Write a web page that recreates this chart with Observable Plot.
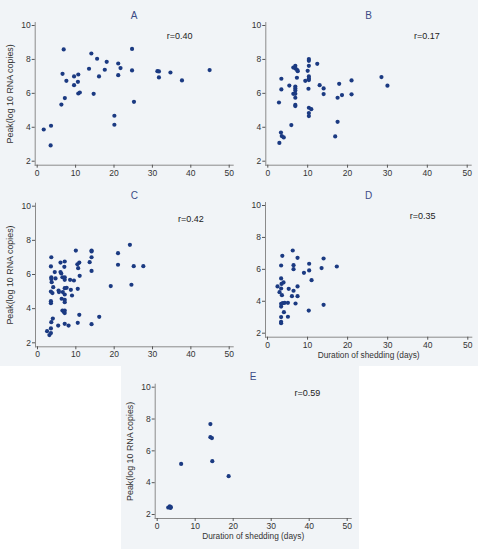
<!DOCTYPE html>
<html>
<head>
<meta charset="utf-8">
<script src="https://cdn.jsdelivr.net/npm/d3@7"></script>
<script src="https://cdn.jsdelivr.net/npm/@observablehq/plot@0.6"></script>
<style>
  html, body { margin: 0; padding: 0; background: #ffffff; }
  #chart { position: relative; width: 481px; height: 549px; font-family: "Liberation Sans", Arial, sans-serif; }
  #chart svg { position: absolute; }
</style>
</head>
<body>
<div id="chart"></div>
<script>
// ---- data ----
const xTicks = [0, 10, 20, 30, 40, 50];
const yTicks = [2, 4, 6, 8, 10];
const panelTitles = ["A", "B", "C", "D", "E"];
const rLabels = ["r=0.40", "r=0.17", "r=0.42", "r=0.35", "r=0.59"];
const rPositions = [[37.1, 9.37], [39.9, 9.37], [40.0, 9.22], [38.7, 9.33], [39.5, 9.65]];
const yLabel = "Peak(log 10 RNA copies)";
const xLabel = "Duration of shedding (days)";

// [duration of shedding (days), peak log10 RNA copies]
const panelA = [
  [1.7, 3.87], [3.6, 4.09], [3.5, 2.93], [6.9, 8.59], [6.6, 7.15], [7.6, 6.74], [7.2, 5.72], [6.3, 5.34],
  [9.6, 7.0], [9.6, 6.48], [10.7, 7.11], [10.6, 6.68], [10.7, 5.99], [11.1, 6.05], [13.5, 7.45], [14.1, 8.35],
  [14.7, 5.97], [15.6, 8.04], [16.1, 7.0], [17.6, 7.39], [18.1, 7.86], [20.1, 4.68], [20.1, 4.15], [21.1, 7.76],
  [21.1, 7.07], [21.7, 7.49], [24.7, 8.62], [24.7, 7.35], [25.2, 5.5], [31.3, 7.31], [31.7, 7.29], [31.7, 6.94],
  [34.7, 7.23], [37.7, 6.76], [44.9, 7.37]
];
const panelB = [
  [2.9, 3.08], [2.8, 5.46], [3.3, 3.69], [3.5, 3.48], [4.0, 3.40], [3.4, 6.86], [3.4, 6.23], [5.4, 6.46],
  [5.9, 4.13], [6.4, 7.52], [6.9, 7.62], [7.0, 7.45], [7.4, 7.37], [7.5, 7.31], [7.3, 6.92], [6.4, 5.97],
  [6.9, 5.97], [6.9, 6.40], [6.9, 6.29], [6.9, 6.17], [6.9, 5.74], [6.9, 5.32], [6.9, 5.25], [9.4, 6.74],
  [10.0, 7.33], [10.3, 8.02], [10.3, 7.92], [10.3, 7.62], [10.3, 7.0], [10.3, 6.88], [10.3, 6.78], [10.2, 6.27],
  [10.3, 5.15], [10.9, 5.07], [10.3, 4.84], [10.3, 4.66], [12.4, 7.74], [13.0, 6.48], [14.0, 6.29], [14.0, 5.96],
  [16.9, 3.46], [17.5, 4.32], [17.5, 5.74], [17.9, 6.56], [18.6, 5.9], [21.0, 6.76], [21.0, 5.94], [28.5, 6.96],
  [30.0, 6.45]
];
const panelC = [
  [2.5, 2.68], [3.1, 2.45], [3.5, 2.57], [3.5, 2.84], [3.6, 3.21], [4.0, 3.42], [3.6, 7.01], [3.5, 6.47],
  [3.6, 5.84], [3.6, 5.73], [3.7, 5.55], [4.1, 5.26], [3.5, 5.0], [3.9, 4.91], [3.5, 4.44], [3.5, 4.32],
  [4.7, 5.77], [4.5, 6.14], [5.4, 3.01], [5.5, 5.06], [5.6, 4.97], [6.0, 6.70], [6.0, 6.14], [6.2, 6.06],
  [6.5, 5.84], [6.3, 4.58], [6.6, 4.97], [6.5, 3.89], [6.9, 3.81], [7.1, 6.76], [7.0, 6.45], [7.1, 5.84],
  [7.1, 5.69], [7.1, 5.20], [7.1, 4.83], [7.1, 4.52], [7.1, 4.38], [7.1, 3.89], [7.1, 3.74], [7.1, 3.11],
  [7.6, 5.22], [8.1, 3.01], [8.5, 5.69], [8.7, 5.10], [9.0, 4.77], [9.5, 5.65], [10.0, 7.40], [10.4, 6.60],
  [10.6, 6.37], [10.9, 6.70], [10.5, 5.16], [11.0, 5.92], [10.5, 3.17], [10.9, 3.64], [13.6, 6.72], [14.1, 7.40],
  [14.1, 7.35], [14.1, 7.01], [14.1, 6.21], [14.1, 3.09], [16.1, 3.52], [19.1, 5.32], [21.0, 7.25], [21.0, 6.57],
  [24.1, 7.74], [24.5, 5.40], [25.1, 6.49], [27.6, 6.49]
];
const panelD = [
  [2.5, 4.93], [3.0, 4.57], [3.4, 5.43], [3.4, 6.24], [3.4, 4.80], [3.5, 5.09], [3.6, 4.38], [3.4, 3.84],
  [3.4, 3.67], [3.4, 3.01], [3.4, 2.71], [3.4, 2.63], [3.7, 6.85], [3.8, 3.88], [4.0, 5.18], [4.1, 3.32],
  [4.3, 3.90], [5.1, 3.90], [5.1, 3.03], [5.3, 4.78], [6.1, 4.32], [6.3, 7.18], [6.5, 6.26], [6.5, 6.01],
  [6.5, 4.66], [7.0, 3.86], [7.5, 6.72], [7.5, 4.93], [7.5, 4.32], [9.1, 5.78], [10.4, 6.35], [10.4, 5.93],
  [10.3, 3.42], [11.0, 5.32], [13.5, 6.08], [14.0, 6.68], [14.0, 3.78], [17.3, 6.18]
];
const panelE = [
  [2.9, 2.44], [3.3, 2.52], [3.6, 2.46], [3.5, 2.42], [6.3, 5.18], [14.0, 7.68], [14.0, 6.86], [14.4, 6.80],
  [14.5, 5.35], [18.8, 4.41]
];

// ---- layout / style ----
const panels = [panelA, panelB, panelC, panelD, panelE];
const layout = [
  {left: 0,   top: 0,   width: 238, mL: 34.7, mR: 5.3, mT: 22,   mB: 18.3, yLab: true,  xLab: false, yLabOff: 28.5},
  {left: 238, top: 0,   width: 240, mL: 27.3, mR: 7.3, mT: 22,   mB: 18.3, yLab: false, xLab: false},
  {left: 0,   top: 183, width: 238, mL: 35,   mR: 5.3, mT: 19.7, mB: 19.7, yLab: true,  xLab: false, yLabOff: 28.5},
  {left: 238, top: 183, width: 240, mL: 27,   mR: 6.7, mT: 19,   mB: 29.3, yLab: false, xLab: true,  xLabOff: 20.5},
  {left: 121, top: 366, width: 238, mL: 33.7, mR: 8.3, mT: 17.7, mB: 31,   yLab: true,  xLab: true,  yLabOff: 29, xLabOff: 20.5}
];
const bg = "#f1f4f7";
const dotColor = "#1b3a82";
const titleColor = "#3b4b86";
const textColor = "#333333";
const axisColor = "#8a8a8a";
const fontFamily = '"Liberation Sans", Arial, sans-serif';

const chart = document.getElementById("chart");

panels.forEach((data, i) => {
  const L = layout[i];
  const marks = [
    Plot.frame({anchor: "left", stroke: axisColor}),
    Plot.frame({anchor: "bottom", stroke: axisColor}),
    Plot.axisX({
      ticks: xTicks, tickSize: 3, tickPadding: 1.5, tickFormat: d => d, stroke: "#555", fill: textColor,
      fontSize: 8.5, label: null
    }),
    Plot.axisY({
      ticks: yTicks, tickSize: 3, tickPadding: 1.5, tickFormat: d => d, stroke: "#555", fill: textColor,
      fontSize: 8.5, label: null
    }),
    L.xLab ? Plot.axisX({
      ticks: [], tickSize: 0, fontSize: 8.3, fill: textColor,
      label: xLabel, labelAnchor: "center", labelArrow: "none", labelOffset: L.xLabOff
    }) : null,
    L.yLab ? Plot.axisY({
      ticks: [], tickSize: 0, fontSize: 8.9, fill: textColor,
      label: yLabel, labelAnchor: "center", labelArrow: "none", labelOffset: L.yLabOff
    }) : null,
    Plot.dot(data, {x: d => d[0], y: d => d[1], r: 2.1, fill: dotColor, stroke: "none"}),
    Plot.text([panelTitles[i]], {frameAnchor: "top", dy: -7, fill: titleColor, fontSize: 10, lineAnchor: "middle"}),
    Plot.text([{x: rPositions[i][0], y: rPositions[i][1], t: rLabels[i]}], {
      x: "x", y: "y", text: "t", fill: "#222", fontSize: 9, lineAnchor: "middle"
    })
  ];
  const svg = Plot.plot({
    width: L.width,
    height: 183,
    marginLeft: L.mL,
    marginRight: L.mR,
    marginTop: L.mT,
    marginBottom: L.mB,
    style: {background: bg, fontFamily, fontSize: "9px", color: textColor},
    x: {domain: [0, 50], insetLeft: 2, insetRight: 4},
    y: {domain: [2, 10], insetTop: 3, insetBottom: 4},
    marks
  });
  svg.style.left = L.left + "px";
  svg.style.top = L.top + "px";
  chart.appendChild(svg);
});
</script>
</body>
</html>
